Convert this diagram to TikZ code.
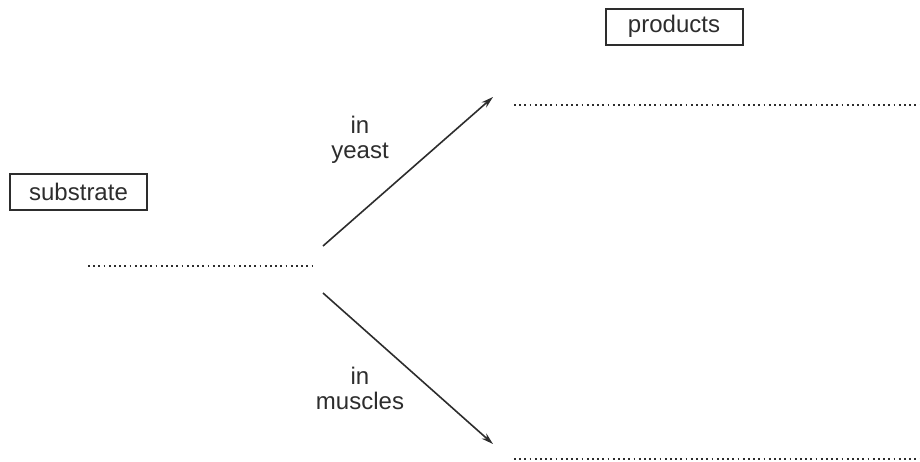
\documentclass[tikz,border=0pt]{standalone}
\usepackage{fontspec}
\setmainfont{Liberation Sans}
\usetikzlibrary{arrows.meta}
\definecolor{ColInk}{RGB}{45,45,45}
\tikzstyle{LabelBox}=[draw=ColInk,line width=1pt,minimum width=68.5pt,minimum height=18pt,
inner sep=0pt,text=ColInk,font=\fontsize{12}{14}\selectfont]
\tikzstyle{Condition}=[align=center,inner sep=0pt,text=ColInk,font=\fontsize{12}{12.5}\selectfont]
\tikzstyle{AnswerLine}=[ColInk,line width=0.9pt,dash pattern=on 0.9pt off 1.7pt]
\tikzstyle{Reaction}=[ColInk,line width=0.8pt,-{Stealth[length=6pt,width=3.5pt]}]

\begin{document}
\begin{tikzpicture}[x=0.5pt,y=-0.5pt]
        \useasboundingbox(0,0)rectangle(920,461);
        \node[LabelBox](sub)at(78.5,192){substrate};
        \node[LabelBox](prod)at(674,26.5){products};
        \coordinate(sa)at(88,266);
        \coordinate(sb)at(315,266);
        \coordinate(ya)at(514,105);
        \coordinate(yb)at(920,105);
        \coordinate(ma)at(514,459);
        \coordinate(mb)at(920,459);
        \coordinate(fork1)at(323,246);
        \coordinate(fork2)at(323,293);
        \coordinate(yend)at(493,97);
        \coordinate(mend)at(493,444);
        \node[Condition](yeast)at(360,140){in\\yeast};
        \node[Condition](muscles)at(360,388){in\\muscles};
        \draw[AnswerLine](sa)--(sb);
        \draw[AnswerLine](ya)--(yb);
        \draw[AnswerLine](ma)--(mb);
        \draw[Reaction](fork1)--(yend);
        \draw[Reaction](fork2)--(mend);
    \end{tikzpicture}
\end{document}
